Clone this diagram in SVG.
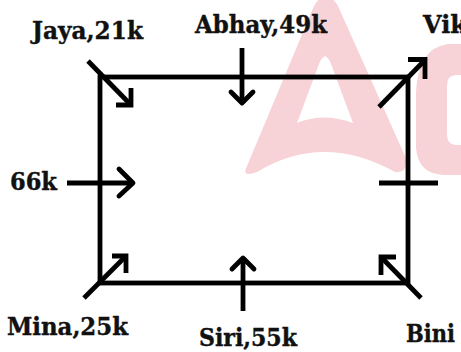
<svg xmlns="http://www.w3.org/2000/svg" width="461" height="352" viewBox="0 0 461 352">
  <style>
    .lbl { font-family: "DejaVu Serif", "Liberation Serif", serif; font-weight: bold; font-size: 24px; fill: #111; stroke: #111; stroke-width: 0.4; }
    .ln { fill: none; stroke: #000; stroke-width: 4.8; stroke-linecap: butt; stroke-linejoin: miter; }
    .chev { fill: none; stroke: #000; stroke-width: 4.8; stroke-linecap: round; stroke-linejoin: round; }
    .wm { fill: #f7d3d8; fill-rule: evenodd; }
  </style>
  <rect width="461" height="352" fill="#fff"/>
  <g id="watermark">
    <path class="wm" d="M247 166 L314 6 Q326 -14 338 6 L405 156 Q409 174 395 172 Q323 132 257 172 Q241 178 247 166 Z M325 56 Q321 58 319 64 L297 123 Q323 112 353 123 L331 64 Q329 58 325 56 Z"/>
    <path class="wm" d="M461 44 L448 44 Q418 48 416 92 L416 148 Q418 174 444 175 L461 175 Z M461 75 L456 75 Q447 75 447 86 L447 134 Q447 145 456 145 L461 145 Z"/>
  </g>
  <g id="plot">
    <rect class="ln" x="100" y="77" width="308" height="206"/>
  </g>
  <g id="jaya"><text class="lbl" x="32" y="39" textLength="111" lengthAdjust="spacingAndGlyphs">Jaya,21k</text></g>
  <g id="abhay"><text class="lbl" x="195" y="33" textLength="132" lengthAdjust="spacingAndGlyphs">Abhay,49k</text></g>
  <g id="vik"><text class="lbl" x="423" y="33">Vik</text></g>
  <g id="k66"><text class="lbl" x="10" y="190" textLength="47" lengthAdjust="spacingAndGlyphs">66k</text></g>
  <g id="mina"><text class="lbl" x="7" y="335" textLength="121" lengthAdjust="spacingAndGlyphs">Mina,25k</text></g>
  <g id="siri"><text class="lbl" x="199" y="346" textLength="98" lengthAdjust="spacingAndGlyphs">Siri,55k</text></g>
  <g id="bini"><text class="lbl" x="406" y="342" textLength="49" lengthAdjust="spacingAndGlyphs">Bini</text></g>
  <g id="connectors">
    <line class="ln" x1="88" y1="61" x2="131" y2="105"/>
    <polyline class="ln" points="131,88 131,105 116,105"/>
    <line class="ln" x1="242" y1="48" x2="242" y2="103"/>
    <polyline class="chev" points="231,92 242,103 253,92"/>
    <line class="ln" x1="379" y1="107" x2="425" y2="60"/>
    <polyline class="ln" points="408,59.5 425,59.5 425,79"/>
    <line class="ln" x1="67" y1="183" x2="133" y2="183"/>
    <polyline class="chev" points="119,169 133,183 119,196"/>
    <line class="ln" x1="379" y1="183" x2="438" y2="183"/>
    <line class="ln" x1="84" y1="298" x2="126" y2="256"/>
    <polyline class="ln" points="112,256 126,256 126,273"/>
    <line class="ln" x1="243" y1="311" x2="243" y2="258"/>
    <polyline class="chev" points="232,269 243,258 254,269"/>
    <line class="ln" x1="421" y1="298" x2="381" y2="257"/>
    <polyline class="ln" points="381,275 381,257 396,257"/>
  </g>
</svg>
